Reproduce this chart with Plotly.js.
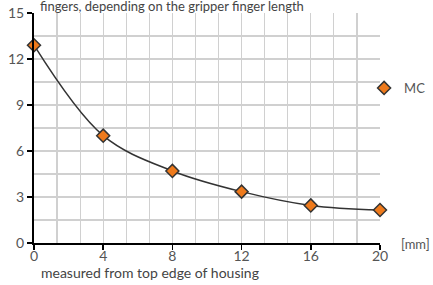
<!DOCTYPE html>
<html><head><meta charset="utf-8">
<script src="https://cdn.plot.ly/plotly-3.0.1.min.js"></script>
<style>html,body{margin:0;padding:0;background:#fff;}#chart{width:433px;height:285px;}</style>
</head><body><div id="chart"></div>
<script>
const fingerLength = [0, 4, 8, 12, 16, 20];
const forceValues = [12.9, 7.0, 4.7, 3.35, 2.45, 2.15];
const seriesName = "MC";
const xTickVals = [0, 4, 8, 12, 16, 20];
const yTickVals = [0, 3, 6, 9, 12, 15];
const titleText = "fingers, depending on the gripper finger length";
const xTitle = "measured from top edge of housing";
const unitLabel = "[mm]";

function steps(from, to, step) {
  const out = [];
  for (let i = 0; from + i * step <= to + 1e-9; i++) out.push(from + i * step);
  return out;
}

const font = "Lato, 'Open Sans', sans-serif";
const lineTrace = {
  x: fingerLength, y: forceValues, name: seriesName, showlegend: false,
  type: "scatter", mode: "lines",
  line: {shape: "spline", smoothing: 1, color: "#333", width: 1.5},
  cliponaxis: false, hoverinfo: "skip"
};
const markerTrace = {
  x: fingerLength, y: forceValues, name: seriesName, showlegend: true,
  type: "scatter", mode: "markers",
  marker: {symbol: "diamond", size: 10, color: "#ee7a1c", line: {color: "#333", width: 1.5}},
  cliponaxis: false
};
const gridColor = "#d0d0d0";
const layout = {
  width: 433, height: 285,
  margin: {l: 34, r: 53, t: 13, b: 42, autoexpand: false},
  paper_bgcolor: "#fff", plot_bgcolor: "#fff",
  font: {family: font, size: 13, color: "#555"},
  showlegend: true,
  legend: {x: 0.954, xanchor: "left", y: 0.674, yanchor: "middle", font: {size: 13, color: "#555"}, bgcolor: "rgba(0,0,0,0)", borderwidth: 0},
  title: {text: titleText, xref: "container", x: 40 / 433, xanchor: "left", yref: "container", y: 1.005, yanchor: "middle", font: {size: 13, color: "#444", family: font}},
  xaxis: {
    range: [0, 20], tickvals: xTickVals, showgrid: true, gridcolor: gridColor, gridwidth: 1.2,
    minor: {tickmode: "array", tickvals: steps(0, 20, 4 / 3), showgrid: true, gridcolor: gridColor, gridwidth: 1.2, ticks: ""},
    showline: true, linecolor: "#000", linewidth: 2, ticks: "outside", ticklen: 5, tickcolor: "#000", tickwidth: 1.5,
    zeroline: false, tickfont: {size: 14, color: "#555"}, ticklabelstandoff: -6
  },
  yaxis: {
    range: [0, 15], tickvals: yTickVals, showgrid: true, gridcolor: gridColor, gridwidth: 1.2,
    minor: {tickmode: "array", tickvals: steps(0, 15, 1.5), showgrid: true, gridcolor: gridColor, gridwidth: 1.2, ticks: ""},
    showline: true, linecolor: "#000", linewidth: 2, ticks: "outside", ticklen: 5, tickcolor: "#000", tickwidth: 1.5,
    zeroline: false, tickfont: {size: 14, color: "#555"}
  },
  annotations: [
    {text: xTitle, xref: "paper", yref: "paper", x: 0.015, y: -0.128, xanchor: "left", yanchor: "middle", showarrow: false, font: {size: 14, color: "#444"}},
    {text: unitLabel, xref: "paper", yref: "paper", x: 1.055, y: -0.005, xanchor: "left", yanchor: "middle", showarrow: false, font: {size: 13, color: "#555"}}
  ]
};
Plotly.newPlot("chart", [lineTrace, markerTrace], layout, {staticPlot: true, displayModeBar: false});
</script></body></html>
